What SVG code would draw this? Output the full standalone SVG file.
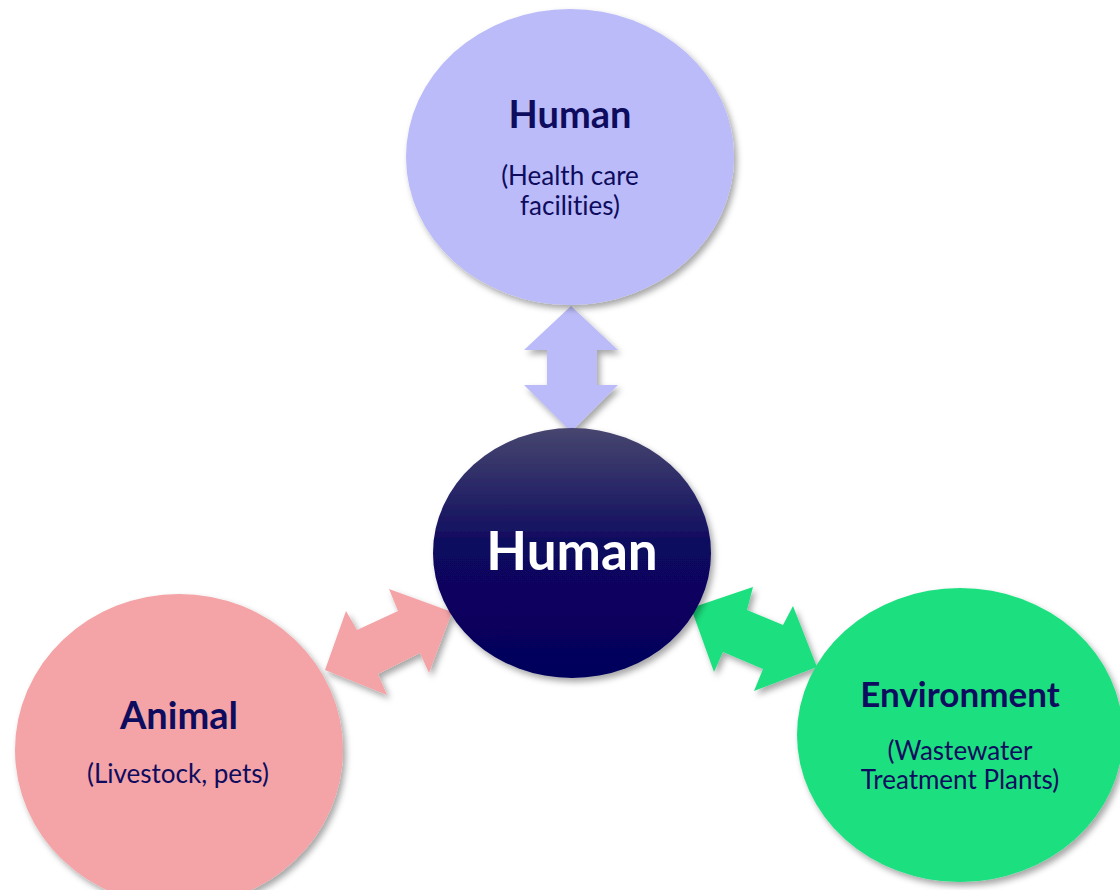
<svg xmlns="http://www.w3.org/2000/svg" width="1120" height="890" viewBox="0 0 1120 890">
<style>
.t{font-family:Lato,"Open Sans","Liberation Sans",sans-serif;fill:#0E0C5E;text-anchor:middle;font-variant-ligatures:none}
.b{font-weight:bold;font-size:38px}
.s{font-size:26px}
</style>
<defs>
<filter id="sh" x="-20%" y="-20%" width="140%" height="140%">
<feDropShadow dx="3" dy="4" stdDeviation="3" flood-color="#000" flood-opacity="0.35"/>
</filter>
<linearGradient id="cg" x1="0" y1="0" x2="0" y2="1">
<stop offset="0" stop-color="#47466F"/>
<stop offset="0.5" stop-color="#0A075F"/>
<stop offset="1" stop-color="#05035C"/>
</linearGradient>
</defs>
<rect width="1120" height="890" fill="#fff"/>
<g id="connectors">
<polygon filter="url(#sh)" fill="#BBBBF9" points="571,306 618,350 597,350 597,385 618,385 571,432 524,385 547,385 547,350 524,350"/>
<polygon filter="url(#sh)" fill="#F4A3A6" points="452,612 429,673 420,653 378,674 387,695 325,670 346,611 357,630 398,611 389,589"/>
<polygon filter="url(#sh)" fill="#1DE07F" points="691,608 753,587 747,610 783,625 793,606 817,667 754,691 763,669 723,652 714,672"/>
</g>
<g id="top">
<ellipse cx="570" cy="157" rx="164" ry="148" fill="#BBBBF9" filter="url(#sh)"/>
<text class="t b" x="570" y="128">Human</text>
<text class="t s" x="570" y="185">(Health care</text>
<text class="t s" x="570" y="215">facilities)</text>
</g>
<g id="center">
<ellipse cx="572" cy="553" rx="139" ry="125" fill="url(#cg)" filter="url(#sh)"/>
<text class="t" x="572" y="570" style="fill:#fff;font-weight:bold;font-size:53px">Human</text>
</g>
<g id="animal">
<ellipse cx="179" cy="750" rx="164" ry="156" fill="#F4A3A6" filter="url(#sh)"/>
<text class="t b" x="179" y="729">Animal</text>
<text class="t s" x="178" y="783">(Livestock, pets)</text>
</g>
<g id="environment">
<ellipse cx="960" cy="735" rx="163" ry="147" fill="#1DE07F" filter="url(#sh)"/>
<text class="t b" x="960" y="707" style="font-size:35px">Environment</text>
<text class="t s" x="960" y="760">(Wastewater</text>
<text class="t s" x="960" y="789">Treatment Plants)</text>
</g>
</svg>
